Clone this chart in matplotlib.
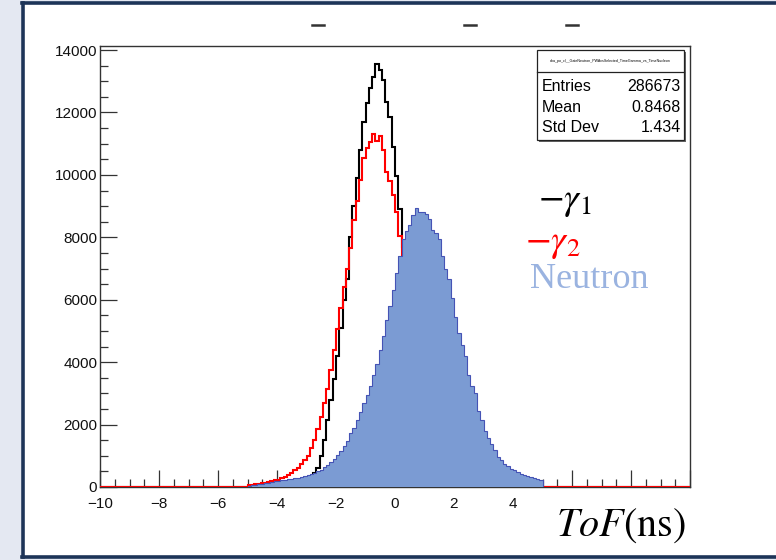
import matplotlib
matplotlib.use('Agg')
import matplotlib.pyplot as plt
import numpy as np
from matplotlib.patches import Rectangle
from matplotlib.lines import Line2D
from matplotlib.ticker import MultipleLocator, FixedLocator, FixedFormatter

plt.rcParams['mathtext.fontset'] = 'stix'

# ---------------- data (counts per bin, 1/9 ns bins from -5 to 5 ns) ----------------
x_min, x_max, n_bins = -10.0, 10.0, 180
data_lo, data_hi = -5.0, 5.0

gamma1 = ([0, 0, 0, 5, 10, 15, 20, 30, 40,
           50, 60, 70, 85, 100, 120, 140, 170, 200,
           260, 330, 440,
           620, 1000, 1500, 2150, 2800, 3450, 4200, 5100, 6000, 6650, 8000, 9000, 9900,
           10800, 11700, 12300, 12800, 13150, 13550, 13350, 13050, 12350, 11850, 10900,
           9950, 8900,
           7700, 6300, 5000, 3800, 2800, 2000, 1400, 950, 650, 430, 280, 180, 110, 70, 40, 25,
           15, 10, 8, 6, 5, 4, 3, 2, 2, 1, 1, 1] + [0] * 15)

gamma2 = ([60, 75, 85, 100, 115, 135, 160, 185, 210, 240, 280, 330, 390, 460, 530, 620,
           730, 850, 1000, 1250, 1500,
           1850, 2250, 2700, 3150, 3750, 4400, 5050, 5750, 6400, 7000, 7650, 8550, 9150,
           9850, 10550, 10850, 11050, 11300, 11100, 11250, 10800, 10100, 9800, 9350, 8800, 8050,
           7300, 6200, 5000, 3900, 2900, 2100, 1500, 1050, 720, 480, 320, 200, 130, 80, 50, 30,
           20, 14, 10, 7, 5, 4, 3, 2, 2, 1, 1, 1, 1] + [0] * 14)

neutron = [45, 60, 75, 90, 110, 125, 140, 160, 180, 195,
           210, 225, 245, 265, 280, 300, 320, 345, 375, 410,
           450, 500, 560, 630, 710, 790, 900, 1030, 1160, 1300,
           1480, 1720, 1900, 2150, 2400, 2700, 2950, 3250, 3600, 3950,
           4400, 4850, 5350, 5800, 6300, 6850, 7400, 7950, 8200, 8400,
           8700, 8950, 8800, 8820, 8750, 8600, 8250, 8150, 7950, 7400,
           7000, 6650, 6050, 5450, 4950, 4550, 4200, 3600, 3250, 3000,
           2450, 2150, 1800, 1560, 1380, 1180, 950, 860, 740, 660,
           580, 530, 470, 420, 380, 350, 310, 280, 260, 240]

stats_title = "dna_po_cl__GateNeutron_PWAvsSelected_TimeGamma_vs_TimeNucleon"
stats_rows = [("Entries", "286673"), ("Mean", "0.8468"), ("Std Dev", "1.434")]
x_tick_vals = [-10, -8, -6, -4, -2, 0, 2, 4, 6, 8, 10]
x_tick_labels = ["\u221210", "\u22128", "\u22126", "\u22124", "\u22122", "0", "2", "4", "", "", ""]
y_ticks = [0, 2000, 4000, 6000, 8000, 10000, 12000, 14000]

# ---------------- figure ----------------
W, H = 776, 560
fig = plt.figure(figsize=(W / 100, H / 100), dpi=100)
fig.patch.set_facecolor('white')

def fx(px):
    return px / W

def fy(py):
    return 1 - py / H

# slide background strip + frame
fig.patches.append(Rectangle((0, 0), fx(21), 1, transform=fig.transFigure,
                             facecolor='#e4e8f2', edgecolor='none', zorder=0))
fig.patches.append(Rectangle((0, fy(2)), 1, 2 / H, transform=fig.transFigure,
                             facecolor='#e4e8f2', edgecolor='none', zorder=0))
fig.patches.append(Rectangle((0, 0), 1, 3 / H, transform=fig.transFigure,
                             facecolor='#e4e8f2', edgecolor='none', zorder=0))
frame_c = '#1d3458'
fig.lines.append(Line2D([fx(22.5), fx(22.5)], [fy(557), fy(2.5)], transform=fig.transFigure,
                        color=frame_c, lw=2.6))
fig.lines.append(Line2D([fx(21.5), 1], [fy(3), fy(3)], transform=fig.transFigure,
                        color=frame_c, lw=2.6))
fig.lines.append(Line2D([fx(21.5), 1], [fy(556.5), fy(556.5)], transform=fig.transFigure,
                        color=frame_c, lw=2.6))

# top dashes (cut-off glyphs)
for xc in [318, 470, 572]:
    fig.lines.append(Line2D([fx(xc - 6), fx(xc + 6)], [fy(25), fy(25)],
                            transform=fig.transFigure, color='#333333', lw=1.8))

ax = fig.add_axes([fx(100), fy(487), fx(690) - fx(100), fy(46) - fy(487)])
ax.set_facecolor('white')

edges = np.linspace(x_min, x_max, n_bins + 1)
n_pad_lo = int(round((data_lo - x_min) / (edges[1] - edges[0])))
n_pad_hi = n_bins - n_pad_lo - len(neutron)
g1_full = np.concatenate([np.zeros(n_pad_lo), gamma1, np.zeros(n_pad_hi)])
g2_full = np.concatenate([np.zeros(n_pad_lo), gamma2, np.zeros(n_pad_hi)])
n_edges = edges[n_pad_lo:n_pad_lo + len(neutron) + 1]

ax.stairs(g1_full, edges, color='black', lw=1.5, zorder=2)
ax.stairs(g2_full, edges, color='#ff0000', lw=1.5, zorder=3)
ax.stairs(neutron, n_edges, fill=True, facecolor='#7b9bd3', edgecolor='none', zorder=4)
ax.stairs(neutron, n_edges, color='#4553b5', lw=0.8, zorder=5)

ax.set_xlim(x_min, x_max)
ax.set_ylim(0, 14130)

ax.xaxis.set_major_locator(FixedLocator(x_tick_vals))
ax.xaxis.set_major_formatter(FixedFormatter(x_tick_labels))
ax.xaxis.set_minor_locator(MultipleLocator(0.5))
ax.yaxis.set_major_locator(FixedLocator(y_ticks))
ax.yaxis.set_major_formatter(FixedFormatter([str(v) for v in y_ticks]))
ax.yaxis.set_minor_locator(MultipleLocator(500))

ax.tick_params(axis='both', which='major', direction='in', length=12, width=0.9,
               color='#333333', labelsize=11, top=False, right=False)
ax.tick_params(axis='both', which='minor', direction='in', length=6, width=0.9,
               color='#333333', top=False, right=False)
ax.tick_params(axis='x', which='major', pad=7)
ax.tick_params(axis='y', which='major', pad=2)
for lab in ax.get_xticklabels() + ax.get_yticklabels():
    lab.set_fontfamily('Liberation Sans')
    lab.set_color('#111111')
for sp in ax.spines.values():
    sp.set_color('#333333')
    sp.set_linewidth(1.0)

# stats box
bx0, by0, bx1, by1 = 537, 50, 684, 140
fig.patches.append(Rectangle((fx(bx0 + 1.5), fy(by1 + 1.5)), fx(bx1) - fx(bx0), fy(by0) - fy(by1),
                             transform=fig.transFigure, facecolor='#666666',
                             edgecolor='none', zorder=9))
fig.patches.append(Rectangle((fx(bx0), fy(by1)), fx(bx1) - fx(bx0), fy(by0) - fy(by1),
                             transform=fig.transFigure, facecolor='white',
                             edgecolor='#222222', lw=0.9, zorder=10))
fig.lines.append(Line2D([fx(bx0), fx(bx1)], [fy(72), fy(72)], transform=fig.transFigure,
                        color='#222222', lw=0.9, zorder=11))
fig.text(fx((bx0 + bx1) / 2), fy(61), stats_title, fontsize=2.6, ha='center', va='center',
         family='Liberation Sans', zorder=12)
for k, (name, val) in enumerate(stats_rows):
    yy = 86.5 + k * 20.5
    fig.text(fx(542), fy(yy), name, fontsize=11.5, ha='left', va='center',
             family='Liberation Sans', zorder=12)
    fig.text(fx(681), fy(yy), val, fontsize=11.5, ha='right', va='center',
             family='Liberation Sans', zorder=12)

# legend-like annotations
fig.text(fx(538), fy(201), r'$-\gamma_1$', fontsize=27, color='black', ha='left', va='center')
fig.text(fx(525), fy(243), r'$-\gamma_2$', fontsize=27, color='#ff0000', ha='left', va='center')
fig.text(fx(530), fy(280), 'Neutron', fontsize=26, color='#9ab3e0', ha='left', va='center',
         family='Liberation Serif')

# x label
fig.text(fx(621), fy(525), r'$ToF\mathrm{(ns)}$', fontsize=29, ha='center', va='center',
         color='black')

fig.savefig('out.png', dpi=100, facecolor=fig.get_facecolor())
